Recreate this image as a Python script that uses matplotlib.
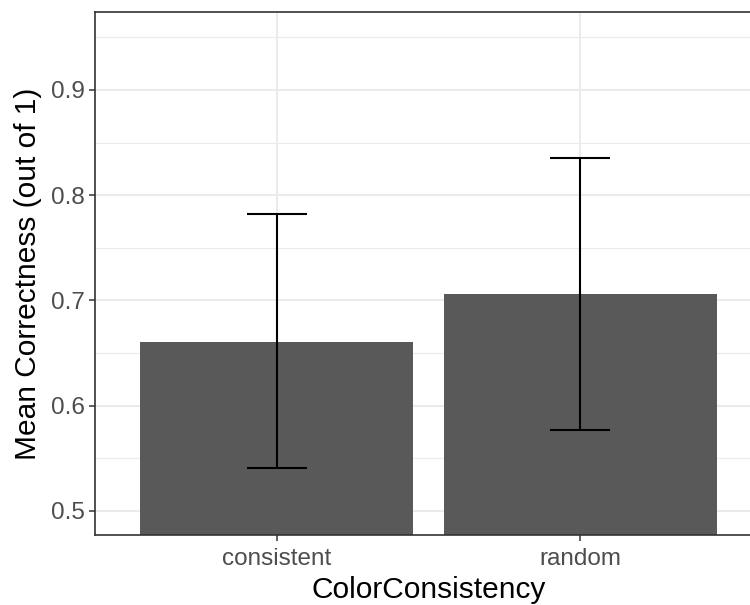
import numpy as np
import matplotlib
matplotlib.use("Agg")
import matplotlib.pyplot as plt
from matplotlib.ticker import MultipleLocator

plt.rcParams["font.family"] = ["Liberation Sans", "DejaVu Sans"]

# data
categories = ["consistent", "random"]
means = [0.661, 0.706]
err_low = [0.541, 0.577]
err_high = [0.782, 0.835]

INK = "#333333"
GRID = "#EBEBEB"
BAR = "#595959"

fig = plt.figure(figsize=(7.5, 6.05), dpi=100)
# panel runs slightly past the right edge, as in the reference crop
ax = fig.add_axes([95 / 750, 1 - 535 / 605, 667 / 750, 523 / 605])

x = np.arange(1, len(categories) + 1)
ax.bar(x, means, width=0.9, color=BAR, zorder=2)
for xi, lo, hi in zip(x, err_low, err_high):
    ax.vlines(xi, lo, hi, color="black", lw=1.5, zorder=3)
    ax.hlines([lo, hi], xi - 0.1, xi + 0.1, color="black", lw=1.5, zorder=3)

ax.set_xlim(0.4, 2.6)
ax.set_ylim(0.4772, 0.974)
ax.yaxis.set_major_locator(MultipleLocator(0.1))
ax.yaxis.set_minor_locator(MultipleLocator(0.05))
ax.set_xticks(x)
ax.set_xticklabels(categories)
ax.set_yticks([0.5, 0.6, 0.7, 0.8, 0.9])
ax.set_yticklabels(["0.5", "0.6", "0.7", "0.8", "0.9"])

ax.grid(which="major", color=GRID, lw=1.4, zorder=0)
ax.grid(which="minor", axis="y", color=GRID, lw=0.8, zorder=0)
ax.set_axisbelow(True)

for s in ax.spines.values():
    s.set_color(INK)
    s.set_linewidth(1.2)
ax.tick_params(which="major", length=4.5, width=1.1, color=INK,
               labelcolor="#4D4D4D", labelsize=17.5, pad=3)
ax.tick_params(axis="x", which="major", pad=5)
ax.tick_params(which="minor", length=0)

ax.set_xlabel("ColorConsistency", fontsize=21.5, color="black", labelpad=4)
ax.set_ylabel("Mean Correctness (out of 1)", fontsize=21.5, color="black", labelpad=6)

fig.savefig("out.png", dpi=100, facecolor="white")
